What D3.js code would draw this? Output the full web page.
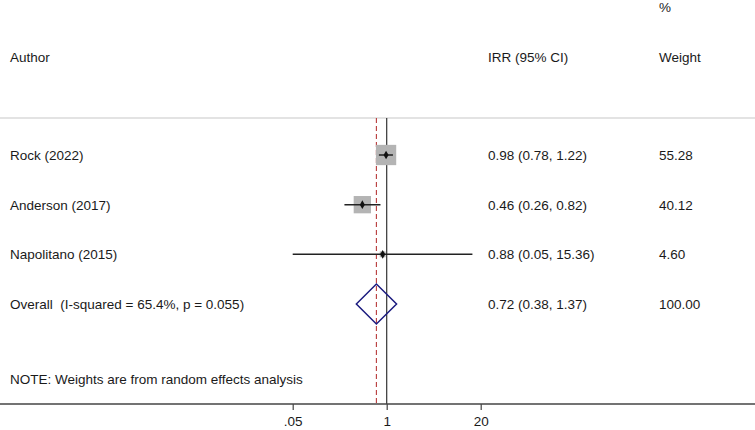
<!DOCTYPE html>
<html>
<head>
<meta charset="utf-8">
<script src="https://cdn.jsdelivr.net/npm/d3@7"></script>
<style>
  body { margin: 0; background: #fff; }
  text { font-family: "Liberation Sans", Arial, sans-serif; font-size: 13.5px; fill: #1a1a1a; white-space: pre; }
</style>
</head>
<body>
<svg id="forest" width="755" height="430"></svg>
<script>
// study data
const authors = ["Rock (2022)", "Anderson (2017)", "Napolitano (2015)"];
const irr = [0.98, 0.46, 0.88];
const ciLow = [0.78, 0.26, 0.05];
const ciHigh = [1.22, 0.82, 15.36];
const weights = [55.28, 40.12, 4.60];

const overallLabel = "Overall  (I-squared = 65.4%, p = 0.055)";
const overall = [0.72, 0.38, 1.37]; // estimate, low, high
const overallWeight = 100.00;

const tickValues = [0.05, 1, 20];
const tickLabels = [".05", "1", "20"];

let svg = d3.select("#forest");
let f2 = d3.format(".2f");

let x = d3.scaleLog().domain([0.05, 20]).range([292.7, 480.7]);
let y = d3.scalePoint().domain(d3.range(authors.length + 1)).range([155, 304]);

const colLabel = 10, colIrr = 488, colWeight = 659;
const plotTop = 118, axisY = 404;

// header
svg.append("text").attr("x", colWeight).attr("y", 12).text("%");
svg.append("text").attr("x", colLabel).attr("y", 62).text("Author");
svg.append("text").attr("x", colIrr).attr("y", 62).text("IRR (95% CI)");
svg.append("text").attr("x", colWeight).attr("y", 62).text("Weight");

svg.append("line")
  .attr("x1", 0).attr("x2", 755)
  .attr("y1", plotTop).attr("y2", plotTop)
  .attr("stroke", "#c8c8c8").attr("stroke-width", 1.2);

// null line and overall line
svg.append("line")
  .attr("x1", x(1)).attr("x2", x(1))
  .attr("y1", plotTop).attr("y2", axisY)
  .attr("stroke", "#333").attr("stroke-width", 1.2);

svg.append("line")
  .attr("x1", x(overall[0])).attr("x2", x(overall[0]))
  .attr("y1", plotTop).attr("y2", axisY)
  .attr("stroke", "#b83a3a").attr("stroke-width", 1.1)
  .attr("stroke-dasharray", "5 3");

// studies
let rows = authors.map((a, i) => ({ author: a, irr: irr[i], lo: ciLow[i], hi: ciHigh[i], w: weights[i], i: i }));

let boxK = 20.3 / Math.sqrt(d3.max(weights));

let g = svg.append("g");

g.selectAll("rect.box").data(rows).join("rect")
  .attr("class", "box")
  .attr("x", d => x(d.irr) - boxK * Math.sqrt(d.w) / 2)
  .attr("y", d => y(d.i) - boxK * Math.sqrt(d.w) / 2)
  .attr("width", d => boxK * Math.sqrt(d.w))
  .attr("height", d => boxK * Math.sqrt(d.w))
  .attr("fill", "#b4b4b4");

g.selectAll("line.ci").data(rows).join("line")
  .attr("class", "ci")
  .attr("x1", d => x(d.lo)).attr("x2", d => x(d.hi))
  .attr("y1", d => y(d.i)).attr("y2", d => y(d.i))
  .attr("stroke", "#222").attr("stroke-width", 1.5);

g.selectAll("path.pt").data(rows).join("path")
  .attr("class", "pt")
  .attr("transform", d => `translate(${x(d.irr)},${y(d.i)})`)
  .attr("d", d3.symbol().type(d3.symbolDiamond).size(22))
  .attr("fill", "#111");

g.selectAll("text.lab").data(rows).join("text")
  .attr("class", "lab")
  .attr("x", colLabel).attr("y", d => y(d.i) + 5)
  .text(d => d.author);

g.selectAll("text.est").data(rows).join("text")
  .attr("class", "est")
  .attr("x", colIrr).attr("y", d => y(d.i) + 5)
  .text(d => `${f2(d.irr)} (${f2(d.lo)}, ${f2(d.hi)})`);

g.selectAll("text.wt").data(rows).join("text")
  .attr("class", "wt")
  .attr("x", colWeight).attr("y", d => y(d.i) + 5)
  .text(d => f2(d.w));

// overall diamond
let oy = y(authors.length);
svg.append("path")
  .attr("d", `M${x(overall[1])},${oy} L${x(overall[0])},${oy - 20} L${x(overall[2])},${oy} L${x(overall[0])},${oy + 20} Z`)
  .attr("fill", "none").attr("stroke", "#1c1c80").attr("stroke-width", 1.5);

svg.append("text").attr("x", colLabel).attr("y", oy + 5).text(overallLabel);
svg.append("text").attr("x", colIrr).attr("y", oy + 5)
  .text(`${f2(overall[0])} (${f2(overall[1])}, ${f2(overall[2])})`);
svg.append("text").attr("x", colWeight).attr("y", oy + 5).text(f2(overallWeight));

svg.append("text").attr("x", colLabel).attr("y", 384)
  .text("NOTE: Weights are from random effects analysis");

// axis
let axis = d3.axisBottom(x)
  .tickValues(tickValues)
  .tickFormat((d, i) => tickLabels[i])
  .tickSize(6).tickSizeOuter(0);

let ax = svg.append("g").attr("transform", `translate(0,${axisY})`).call(axis);
ax.select(".domain").remove();
ax.selectAll(".tick line").attr("stroke", "#444").attr("stroke-width", 1.2);
ax.selectAll(".tick text").attr("dy", "0.95em").style("font-size", "13.5px").attr("fill", "#1a1a1a");

svg.append("line")
  .attr("x1", 0).attr("x2", 755)
  .attr("y1", axisY).attr("y2", axisY)
  .attr("stroke", "#444").attr("stroke-width", 1.3);
</script>
</body>
</html>
